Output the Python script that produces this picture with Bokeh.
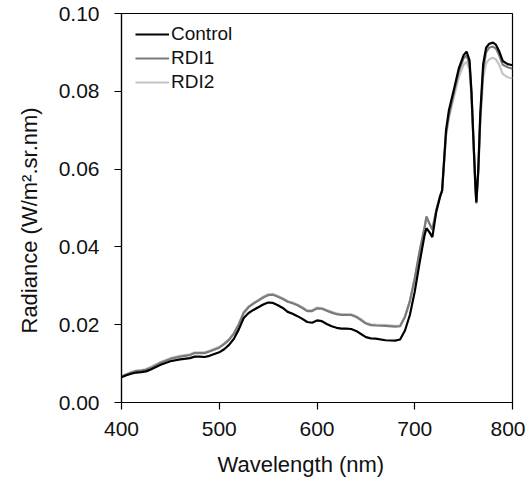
from bokeh.plotting import figure
from bokeh.models import (Range1d, FixedTicker, PrintfTickFormatter, Legend, LegendItem,
                          ColumnDataSource, Title)
from bokeh.embed import file_html
from bokeh.resources import INLINE

wavelength = [400, 405, 410, 415, 420, 425, 430, 440, 450, 460, 470, 475, 480, 485, 490,
              500, 505, 510, 515, 520, 525, 530, 535, 540, 545, 550, 555, 560, 565, 570,
              575, 580, 585, 590, 595, 600, 605, 610, 615, 620, 625, 630, 635, 640, 645,
              650, 655, 660, 670, 680, 685, 690, 695, 700, 705, 710, 712, 715, 718, 722,
              726, 728, 732, 735, 740, 745, 750, 753, 756, 758, 760, 762, 763, 765, 767,
              770, 773, 776, 780, 783, 786, 790, 795, 800]

control = [0.0065, 0.0070, 0.0074, 0.0077, 0.0078, 0.0080, 0.0085, 0.0097, 0.0106, 0.0111,
           0.0114, 0.0118, 0.0118, 0.0117, 0.0120, 0.0129, 0.0137, 0.0148, 0.0164, 0.0188,
           0.0217, 0.0230, 0.0238, 0.0245, 0.0252, 0.0257, 0.0256, 0.0250, 0.0243, 0.0233,
           0.0228, 0.0222, 0.0215, 0.0207, 0.0205, 0.0211, 0.0209, 0.0202, 0.0196, 0.0192,
           0.0190, 0.0190, 0.0189, 0.0184, 0.0176, 0.0168, 0.0165, 0.0164, 0.0160, 0.0159,
           0.0162, 0.0185, 0.0225, 0.0285, 0.0360, 0.0430, 0.0448, 0.0438, 0.0425, 0.0490,
           0.0530, 0.0545, 0.0700, 0.0752, 0.0804, 0.0858, 0.0893, 0.0902, 0.0880, 0.0800,
           0.0680, 0.0560, 0.0515, 0.0600, 0.0740, 0.0870, 0.0912, 0.0922, 0.0925, 0.0920,
           0.0905, 0.0878, 0.0870, 0.0867]

rdi1 = [0.0067, 0.0072, 0.0077, 0.0081, 0.0082, 0.0084, 0.0089, 0.0102, 0.0112, 0.0118,
        0.0122, 0.0127, 0.0127, 0.0127, 0.0131, 0.0141, 0.0150, 0.0161, 0.0177, 0.0200,
        0.0230, 0.0245, 0.0254, 0.0262, 0.0270, 0.0276, 0.0277, 0.0272, 0.0266, 0.0259,
        0.0255, 0.0250, 0.0243, 0.0235, 0.0235, 0.0242, 0.0241, 0.0236, 0.0231, 0.0227,
        0.0225, 0.0225, 0.0225, 0.0220, 0.0212, 0.0203, 0.0199, 0.0198, 0.0197, 0.0195,
        0.0196, 0.0220, 0.0260, 0.0320, 0.0390, 0.0450, 0.0478, 0.0460, 0.0445, 0.0495,
        0.0532, 0.0545, 0.0690, 0.0740, 0.0795, 0.0850, 0.0885, 0.0892, 0.0870, 0.0795,
        0.0675, 0.0555, 0.0512, 0.0595, 0.0730, 0.0855, 0.0900, 0.0912, 0.0915, 0.0910,
        0.0895, 0.0868, 0.0862, 0.0858]

rdi2 = [0.0068, 0.0073, 0.0078, 0.0082, 0.0083, 0.0086, 0.0091, 0.0104, 0.0114, 0.0120,
        0.0124, 0.0129, 0.0129, 0.0129, 0.0133, 0.0143, 0.0152, 0.0163, 0.0179, 0.0203,
        0.0233, 0.0247, 0.0256, 0.0264, 0.0272, 0.0278, 0.0279, 0.0274, 0.0268, 0.0261,
        0.0257, 0.0252, 0.0245, 0.0237, 0.0237, 0.0244, 0.0243, 0.0238, 0.0233, 0.0229,
        0.0227, 0.0227, 0.0227, 0.0222, 0.0214, 0.0205, 0.0201, 0.0200, 0.0199, 0.0197,
        0.0198, 0.0222, 0.0262, 0.0315, 0.0385, 0.0448, 0.0478, 0.0460, 0.0445, 0.0492,
        0.0530, 0.0542, 0.0685, 0.0732, 0.0785, 0.0835, 0.0868, 0.0876, 0.0855, 0.0785,
        0.0670, 0.0555, 0.0515, 0.0590, 0.0715, 0.0835, 0.0872, 0.0882, 0.0886, 0.0882,
        0.0870, 0.0845, 0.0836, 0.0833]

x_ticks = [400, 500, 600, 700, 800]
y_ticks = [0.0, 0.02, 0.04, 0.06, 0.08, 0.10]
x_title = "Wavelength (nm)"
y_title = "Radiance (W/m\u00b2.sr.nm)"

FONT = "Liberation Sans"

p = figure(width=525, height=488, output_backend="svg", toolbar_location=None,
           x_range=Range1d(400, 800), y_range=Range1d(0, 0.1),
           min_border_left=120, min_border_right=13, min_border_top=13, min_border_bottom=86)
p.background_fill_color = "white"
p.border_fill_color = "white"
p.grid.visible = False
p.outline_line_color = "black"
p.outline_line_width = 1.2
p.outline_line_alpha = 1.0

src = ColumnDataSource(dict(x=wavelength, c=control, r1=rdi1, r2=rdi2))
l2 = p.line("x", "r2", source=src, line_color="#c4c4c4", line_width=2.2)
l1 = p.line("x", "r1", source=src, line_color="#7a7a7a", line_width=2.2)
l0 = p.line("x", "c", source=src, line_color="#000000", line_width=2.2)

for ax in (p.xaxis[0], p.yaxis[0]):
    ax.axis_line_color = "black"
    ax.axis_line_width = 1.2
    ax.major_tick_line_color = "black"
    ax.major_tick_line_width = 1.2
    ax.major_tick_in = 0
    ax.major_tick_out = 7
    ax.minor_tick_line_color = None
    ax.major_label_text_font = FONT
    ax.major_label_text_font_size = "21px"
    ax.major_label_text_color = "#111111"

p.xaxis.ticker = FixedTicker(ticks=x_ticks)
p.yaxis.ticker = FixedTicker(ticks=y_ticks)
p.yaxis.formatter = PrintfTickFormatter(format="%.2f")
p.xaxis.major_label_standoff = 12
p.yaxis.major_label_standoff = 15

xt = Title(text=x_title, align="left", offset=96, text_font=FONT,
           text_font_size="22px", text_font_style="normal", text_color="#111111",
           standoff=22)
p.add_layout(xt, "below")
yt = Title(text=y_title, align="left", offset=69, text_font=FONT,
           text_font_size="22px", text_font_style="normal", text_color="#111111",
           standoff=28)
p.add_layout(yt, "left")

legend = Legend(items=[LegendItem(label="Control", renderers=[l0]),
                       LegendItem(label="RDI1", renderers=[l1]),
                       LegendItem(label="RDI2", renderers=[l2])],
                location=(14, 309), orientation="vertical")
legend.label_text_font = FONT
legend.label_text_font_size = "19px"
legend.label_text_color = "#111111"
legend.glyph_width = 34
legend.glyph_height = 20
legend.label_standoff = 2
legend.spacing = 2
legend.padding = 0
legend.margin = 0
legend.border_line_alpha = 0
legend.background_fill_alpha = 0
p.add_layout(legend)

open("out.html", "w").write(file_html(p, INLINE))
